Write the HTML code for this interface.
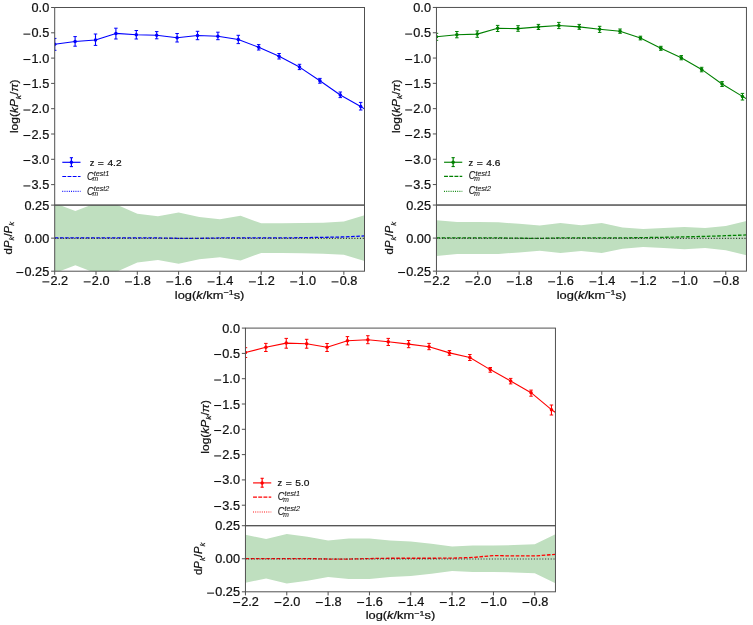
<!DOCTYPE html>
<html><head><meta charset="utf-8"><title>Power spectrum comparison</title>
<style>
html,body{margin:0;padding:0;background:#fff;}
body{width:753px;height:625px;overflow:hidden;}
svg{display:block;font-family:"Liberation Sans", sans-serif;will-change:transform;}
text{fill:#111;stroke:#111;stroke-width:0.22px;}
</style></head><body>
<svg width="753" height="625" viewBox="0 0 753 625">
<rect width="753" height="625" fill="#fff"/>
<clipPath id="cTL"><rect x="54.7" y="7.5" width="309.8" height="197.6"/></clipPath>
<clipPath id="rTL"><rect x="54.7" y="205.1" width="309.8" height="66.1"/></clipPath>
<g clip-path="url(#rTL)">
<polygon points="54.7,203.15 75.35,211.05 96.01,203.05 116.66,204.65 137.31,213.75 157.97,216.35 178.62,212.5 199.27,217.05 219.93,219.15 240.58,215.75 261.23,223.35 281.89,223.35 302.54,222.95 323.19,222.65 343.85,221.55 364.5,215.25 364.5,261.05 343.85,254.75 323.19,253.65 302.54,253.35 281.89,252.95 261.23,252.95 240.58,260.55 219.93,257.15 199.27,259.25 178.62,263.8 157.97,259.95 137.31,262.55 116.66,271.65 96.01,273.25 75.35,265.25 54.7,273.15" fill="#bfdfbf"/>
<polyline points="54.7,237.95 75.35,237.95 96.01,237.95 116.66,237.95 137.31,237.95 157.97,237.95 178.62,238.35 199.27,238.35 219.93,237.95 240.58,237.95 261.23,237.95 281.89,237.95 302.54,237.65 323.19,237.35 343.85,236.95 364.5,235.95" fill="none" stroke="#0000ff" stroke-width="1.3" stroke-dasharray="3.6 1.6"/>
<line x1="54.7" y1="238.4" x2="364.5" y2="238.4" stroke="#333" stroke-width="1.1" stroke-dasharray="1.1 1.7"/>
</g>
<g clip-path="url(#cTL)">
<polyline points="54.7,44.3 75.1,41.5 95.5,40 115.9,33.4 136.3,34.8 156.7,35.3 177.1,37.7 197.5,35.5 217.9,36.2 238.3,39.5 258.7,47.3 279.1,56.3 299.5,67.1 319.9,80.8 340.3,95 360.7,106.4 381.1,120.7" fill="none" stroke="#0000ff" stroke-width="1.1" stroke-linejoin="round"/>
<line x1="54.7" y1="38.4" x2="54.7" y2="50.3" stroke="#0000ff" stroke-width="1.1"/>
<line x1="52.95" y1="38.4" x2="56.45" y2="38.4" stroke="#0000ff" stroke-width="1"/>
<line x1="52.95" y1="50.3" x2="56.45" y2="50.3" stroke="#0000ff" stroke-width="1"/>
<circle cx="54.7" cy="44.3" r="1.75" fill="#0000ff"/>
<line x1="75.1" y1="36.6" x2="75.1" y2="46.2" stroke="#0000ff" stroke-width="1.1"/>
<line x1="73.35" y1="36.6" x2="76.85" y2="36.6" stroke="#0000ff" stroke-width="1"/>
<line x1="73.35" y1="46.2" x2="76.85" y2="46.2" stroke="#0000ff" stroke-width="1"/>
<circle cx="75.1" cy="41.5" r="1.75" fill="#0000ff"/>
<line x1="95.5" y1="34" x2="95.5" y2="45.4" stroke="#0000ff" stroke-width="1.1"/>
<line x1="93.75" y1="34" x2="97.25" y2="34" stroke="#0000ff" stroke-width="1"/>
<line x1="93.75" y1="45.4" x2="97.25" y2="45.4" stroke="#0000ff" stroke-width="1"/>
<circle cx="95.5" cy="40" r="1.75" fill="#0000ff"/>
<line x1="115.9" y1="28.2" x2="115.9" y2="39" stroke="#0000ff" stroke-width="1.1"/>
<line x1="114.15" y1="28.2" x2="117.65" y2="28.2" stroke="#0000ff" stroke-width="1"/>
<line x1="114.15" y1="39" x2="117.65" y2="39" stroke="#0000ff" stroke-width="1"/>
<circle cx="115.9" cy="33.4" r="1.75" fill="#0000ff"/>
<line x1="136.3" y1="30.5" x2="136.3" y2="39" stroke="#0000ff" stroke-width="1.1"/>
<line x1="134.55" y1="30.5" x2="138.05" y2="30.5" stroke="#0000ff" stroke-width="1"/>
<line x1="134.55" y1="39" x2="138.05" y2="39" stroke="#0000ff" stroke-width="1"/>
<circle cx="136.3" cy="34.8" r="1.75" fill="#0000ff"/>
<line x1="156.7" y1="31.6" x2="156.7" y2="38.8" stroke="#0000ff" stroke-width="1.1"/>
<line x1="154.95" y1="31.6" x2="158.45" y2="31.6" stroke="#0000ff" stroke-width="1"/>
<line x1="154.95" y1="38.8" x2="158.45" y2="38.8" stroke="#0000ff" stroke-width="1"/>
<circle cx="156.7" cy="35.3" r="1.75" fill="#0000ff"/>
<line x1="177.1" y1="33.5" x2="177.1" y2="42" stroke="#0000ff" stroke-width="1.1"/>
<line x1="175.35" y1="33.5" x2="178.85" y2="33.5" stroke="#0000ff" stroke-width="1"/>
<line x1="175.35" y1="42" x2="178.85" y2="42" stroke="#0000ff" stroke-width="1"/>
<circle cx="177.1" cy="37.7" r="1.75" fill="#0000ff"/>
<line x1="197.5" y1="31.3" x2="197.5" y2="39.7" stroke="#0000ff" stroke-width="1.1"/>
<line x1="195.75" y1="31.3" x2="199.25" y2="31.3" stroke="#0000ff" stroke-width="1"/>
<line x1="195.75" y1="39.7" x2="199.25" y2="39.7" stroke="#0000ff" stroke-width="1"/>
<circle cx="197.5" cy="35.5" r="1.75" fill="#0000ff"/>
<line x1="217.9" y1="32.2" x2="217.9" y2="39.7" stroke="#0000ff" stroke-width="1.1"/>
<line x1="216.15" y1="32.2" x2="219.65" y2="32.2" stroke="#0000ff" stroke-width="1"/>
<line x1="216.15" y1="39.7" x2="219.65" y2="39.7" stroke="#0000ff" stroke-width="1"/>
<circle cx="217.9" cy="36.2" r="1.75" fill="#0000ff"/>
<line x1="238.3" y1="35.3" x2="238.3" y2="43.6" stroke="#0000ff" stroke-width="1.1"/>
<line x1="236.55" y1="35.3" x2="240.05" y2="35.3" stroke="#0000ff" stroke-width="1"/>
<line x1="236.55" y1="43.6" x2="240.05" y2="43.6" stroke="#0000ff" stroke-width="1"/>
<circle cx="238.3" cy="39.5" r="1.75" fill="#0000ff"/>
<line x1="258.7" y1="44.6" x2="258.7" y2="50" stroke="#0000ff" stroke-width="1.1"/>
<line x1="256.95" y1="44.6" x2="260.45" y2="44.6" stroke="#0000ff" stroke-width="1"/>
<line x1="256.95" y1="50" x2="260.45" y2="50" stroke="#0000ff" stroke-width="1"/>
<circle cx="258.7" cy="47.3" r="1.75" fill="#0000ff"/>
<line x1="279.1" y1="53.5" x2="279.1" y2="59" stroke="#0000ff" stroke-width="1.1"/>
<line x1="277.35" y1="53.5" x2="280.85" y2="53.5" stroke="#0000ff" stroke-width="1"/>
<line x1="277.35" y1="59" x2="280.85" y2="59" stroke="#0000ff" stroke-width="1"/>
<circle cx="279.1" cy="56.3" r="1.75" fill="#0000ff"/>
<line x1="299.5" y1="64.3" x2="299.5" y2="69.6" stroke="#0000ff" stroke-width="1.1"/>
<line x1="297.75" y1="64.3" x2="301.25" y2="64.3" stroke="#0000ff" stroke-width="1"/>
<line x1="297.75" y1="69.6" x2="301.25" y2="69.6" stroke="#0000ff" stroke-width="1"/>
<circle cx="299.5" cy="67.1" r="1.75" fill="#0000ff"/>
<line x1="319.9" y1="78.4" x2="319.9" y2="83.2" stroke="#0000ff" stroke-width="1.1"/>
<line x1="318.15" y1="78.4" x2="321.65" y2="78.4" stroke="#0000ff" stroke-width="1"/>
<line x1="318.15" y1="83.2" x2="321.65" y2="83.2" stroke="#0000ff" stroke-width="1"/>
<circle cx="319.9" cy="80.8" r="1.75" fill="#0000ff"/>
<line x1="340.3" y1="92" x2="340.3" y2="97.6" stroke="#0000ff" stroke-width="1.1"/>
<line x1="338.55" y1="92" x2="342.05" y2="92" stroke="#0000ff" stroke-width="1"/>
<line x1="338.55" y1="97.6" x2="342.05" y2="97.6" stroke="#0000ff" stroke-width="1"/>
<circle cx="340.3" cy="95" r="1.75" fill="#0000ff"/>
<line x1="360.7" y1="102.4" x2="360.7" y2="110" stroke="#0000ff" stroke-width="1.1"/>
<line x1="358.95" y1="102.4" x2="362.45" y2="102.4" stroke="#0000ff" stroke-width="1"/>
<line x1="358.95" y1="110" x2="362.45" y2="110" stroke="#0000ff" stroke-width="1"/>
<circle cx="360.7" cy="106.4" r="1.75" fill="#0000ff"/>
</g>
<line x1="62.3" y1="162.3" x2="80.5" y2="162.3" stroke="#0000ff" stroke-width="1.15"/>
<line x1="71.4" y1="157.7" x2="71.4" y2="166.6" stroke="#0000ff" stroke-width="1.2"/>
<line x1="69.8" y1="157.7" x2="73" y2="157.7" stroke="#0000ff" stroke-width="1.1"/>
<line x1="69.8" y1="166.6" x2="73" y2="166.6" stroke="#0000ff" stroke-width="1.1"/>
<circle cx="71.4" cy="162.3" r="1.75" fill="#0000ff"/>
<text x="89.63" y="165.7" font-size="9.7" textLength="4.67" lengthAdjust="spacingAndGlyphs">z</text>
<text x="97.82" y="165.7" font-size="9.7" textLength="6.05" lengthAdjust="spacingAndGlyphs">=</text>
<text x="107.42" y="165.7" font-size="9.7" textLength="14.15" lengthAdjust="spacingAndGlyphs">4.2</text>
<line x1="62.3" y1="176.5" x2="80.5" y2="176.5" stroke="#0000ff" stroke-width="1.2" stroke-dasharray="3.9 1.3"/>
<text x="87" y="179.5" font-size="10.2" font-style="italic" textLength="6.6" lengthAdjust="spacingAndGlyphs" style="stroke-width:0.12px">C</text>
<text x="93.7" y="175.7" font-size="6.7" font-style="italic" textLength="15.6" lengthAdjust="spacingAndGlyphs" style="stroke-width:0.05px">test1</text>
<text x="92.6" y="181.4" font-size="6.9" font-style="italic" textLength="5.6" lengthAdjust="spacingAndGlyphs" style="stroke-width:0.08px">m</text>
<line x1="62.3" y1="191.4" x2="80.5" y2="191.4" stroke="#0000ff" stroke-width="1.2" stroke-dasharray="0.9 1.3"/>
<text x="87" y="194.5" font-size="10.2" font-style="italic" textLength="6.6" lengthAdjust="spacingAndGlyphs" style="stroke-width:0.12px">C</text>
<text x="93.7" y="190.7" font-size="6.7" font-style="italic" textLength="15.6" lengthAdjust="spacingAndGlyphs" style="stroke-width:0.05px">test2</text>
<text x="92.6" y="196.4" font-size="6.9" font-style="italic" textLength="5.6" lengthAdjust="spacingAndGlyphs" style="stroke-width:0.08px">m</text>
<rect x="54.7" y="7.5" width="309.8" height="197.6" fill="none" stroke="#505050" stroke-width="1"/>
<rect x="54.7" y="205.1" width="309.8" height="66.1" fill="none" stroke="#505050" stroke-width="1"/>
<line x1="51.1" y1="7.5" x2="54.7" y2="7.5" stroke="#505050" stroke-width="1"/>
<text x="31.55" y="12" font-size="12.1" textLength="17.65" lengthAdjust="spacingAndGlyphs">0.0</text>
<line x1="51.1" y1="32.8" x2="54.7" y2="32.8" stroke="#505050" stroke-width="1"/>
<rect x="23.43" y="33.6" width="6.95" height="1.05" fill="#111"/><text x="31.55" y="37.3" font-size="12.1" textLength="17.65" lengthAdjust="spacingAndGlyphs">0.5</text>
<line x1="51.1" y1="58.1" x2="54.7" y2="58.1" stroke="#505050" stroke-width="1"/>
<rect x="23.43" y="59" width="6.95" height="1.05" fill="#111"/><text x="31.55" y="62.6" font-size="12.1" textLength="17.65" lengthAdjust="spacingAndGlyphs">1.0</text>
<line x1="51.1" y1="83.4" x2="54.7" y2="83.4" stroke="#505050" stroke-width="1"/>
<rect x="23.43" y="84" width="6.95" height="1.05" fill="#111"/><text x="31.55" y="87.9" font-size="12.1" textLength="17.65" lengthAdjust="spacingAndGlyphs">1.5</text>
<line x1="51.1" y1="108.7" x2="54.7" y2="108.7" stroke="#505050" stroke-width="1"/>
<rect x="23.43" y="109.5" width="6.95" height="1.05" fill="#111"/><text x="31.55" y="113.2" font-size="12.1" textLength="17.65" lengthAdjust="spacingAndGlyphs">2.0</text>
<line x1="51.1" y1="134" x2="54.7" y2="134" stroke="#505050" stroke-width="1"/>
<rect x="23.43" y="135" width="6.95" height="1.05" fill="#111"/><text x="31.55" y="138.5" font-size="12.1" textLength="17.65" lengthAdjust="spacingAndGlyphs">2.5</text>
<line x1="51.1" y1="159.31" x2="54.7" y2="159.31" stroke="#505050" stroke-width="1"/>
<rect x="23.43" y="160" width="6.95" height="1.05" fill="#111"/><text x="31.55" y="163.81" font-size="12.1" textLength="17.65" lengthAdjust="spacingAndGlyphs">3.0</text>
<line x1="51.1" y1="184.61" x2="54.7" y2="184.61" stroke="#505050" stroke-width="1"/>
<rect x="23.43" y="185.41" width="6.95" height="1.05" fill="#111"/><text x="31.55" y="189.11" font-size="12.1" textLength="17.65" lengthAdjust="spacingAndGlyphs">3.5</text>
<line x1="51.1" y1="205.1" x2="54.7" y2="205.1" stroke="#505050" stroke-width="1"/>
<text x="24.49" y="209.6" font-size="12.1" textLength="24.71" lengthAdjust="spacingAndGlyphs">0.25</text>
<line x1="51.1" y1="238.15" x2="54.7" y2="238.15" stroke="#505050" stroke-width="1"/>
<text x="24.49" y="242.65" font-size="12.1" textLength="24.71" lengthAdjust="spacingAndGlyphs">0.00</text>
<line x1="51.1" y1="271.2" x2="54.7" y2="271.2" stroke="#505050" stroke-width="1"/>
<rect x="16.37" y="272" width="6.95" height="1.05" fill="#111"/><text x="24.49" y="275.7" font-size="12.1" textLength="24.71" lengthAdjust="spacingAndGlyphs">0.25</text>
<line x1="54.7" y1="271.2" x2="54.7" y2="274.8" stroke="#505050" stroke-width="1"/>
<rect x="42.4" y="281.35" width="6.95" height="1.05" fill="#111"/><text x="50.53" y="285.05" font-size="12.1" textLength="17.65" lengthAdjust="spacingAndGlyphs">2.2</text>
<line x1="96.01" y1="271.2" x2="96.01" y2="274.8" stroke="#505050" stroke-width="1"/>
<rect x="83.71" y="281.35" width="6.95" height="1.05" fill="#111"/><text x="91.83" y="285.05" font-size="12.1" textLength="17.65" lengthAdjust="spacingAndGlyphs">2.0</text>
<line x1="137.31" y1="271.2" x2="137.31" y2="274.8" stroke="#505050" stroke-width="1"/>
<rect x="125.01" y="281.35" width="6.95" height="1.05" fill="#111"/><text x="133.14" y="285.05" font-size="12.1" textLength="17.65" lengthAdjust="spacingAndGlyphs">1.8</text>
<line x1="178.62" y1="271.2" x2="178.62" y2="274.8" stroke="#505050" stroke-width="1"/>
<rect x="166.32" y="281.35" width="6.95" height="1.05" fill="#111"/><text x="174.45" y="285.05" font-size="12.1" textLength="17.65" lengthAdjust="spacingAndGlyphs">1.6</text>
<line x1="219.93" y1="271.2" x2="219.93" y2="274.8" stroke="#505050" stroke-width="1"/>
<rect x="207.63" y="281.35" width="6.95" height="1.05" fill="#111"/><text x="215.75" y="285.05" font-size="12.1" textLength="17.65" lengthAdjust="spacingAndGlyphs">1.4</text>
<line x1="261.23" y1="271.2" x2="261.23" y2="274.8" stroke="#505050" stroke-width="1"/>
<rect x="248.93" y="281.35" width="6.95" height="1.05" fill="#111"/><text x="257.06" y="285.05" font-size="12.1" textLength="17.65" lengthAdjust="spacingAndGlyphs">1.2</text>
<line x1="302.54" y1="271.2" x2="302.54" y2="274.8" stroke="#505050" stroke-width="1"/>
<rect x="290.24" y="281.35" width="6.95" height="1.05" fill="#111"/><text x="298.37" y="285.05" font-size="12.1" textLength="17.65" lengthAdjust="spacingAndGlyphs">1.0</text>
<line x1="343.85" y1="271.2" x2="343.85" y2="274.8" stroke="#505050" stroke-width="1"/>
<rect x="331.55" y="281.35" width="6.95" height="1.05" fill="#111"/><text x="339.67" y="285.05" font-size="12.1" textLength="17.65" lengthAdjust="spacingAndGlyphs">0.8</text>
<text x="209.6" y="298.8" font-size="10.6" text-anchor="middle" textLength="69.5" lengthAdjust="spacingAndGlyphs">log(<tspan font-style="italic">k</tspan>/km<tspan dy="-3.8" font-size="7.4">−1</tspan><tspan dy="3.8">s)</tspan></text>
<text transform="translate(18,106.3) rotate(-90)" x="0" y="0" font-size="11" text-anchor="middle" textLength="53.6" lengthAdjust="spacingAndGlyphs">log(<tspan font-style="italic">kP</tspan><tspan font-style="italic" font-size="7.8" dy="2.7">k</tspan><tspan dy="-2.7">/</tspan><tspan font-style="italic">π</tspan>)</text>
<text transform="translate(11.5,238.15) rotate(-90)" x="0" y="0" font-size="11.2" text-anchor="middle" textLength="32.6" lengthAdjust="spacingAndGlyphs">d<tspan font-style="italic">P</tspan><tspan font-style="italic" font-size="7.8" dy="2.7">k</tspan><tspan dy="-2.7">/</tspan><tspan font-style="italic">P</tspan><tspan font-style="italic" font-size="7.8" dy="2.7">k</tspan></text>
<clipPath id="cTR"><rect x="436.45" y="7.45" width="310" height="197.6"/></clipPath>
<clipPath id="rTR"><rect x="436.45" y="205.05" width="310" height="66.1"/></clipPath>
<g clip-path="url(#rTR)">
<polygon points="436.45,220.2 457.12,222.1 477.78,222.1 498.45,222.3 519.12,223.8 539.78,225.5 560.45,223.1 581.12,225.3 601.78,223.1 622.45,227.4 643.12,229.1 663.78,228.1 684.45,227 705.12,228.1 725.78,225.9 746.45,221 746.45,255.2 725.78,250.3 705.12,248.1 684.45,249.2 663.78,248.1 643.12,247.1 622.45,248.8 601.78,253.1 581.12,250.9 560.45,253.1 539.78,250.7 519.12,252.4 498.45,253.9 477.78,254.1 457.12,254.1 436.45,256" fill="#bfdfbf"/>
<polyline points="436.45,237.9 457.12,237.9 477.78,237.9 498.45,237.9 519.12,238.2 539.78,238.4 560.45,237.9 581.12,237.9 601.78,237.9 622.45,237.9 643.12,237.6 663.78,237.3 684.45,236.9 705.12,236.4 725.78,235.7 746.45,234.9" fill="none" stroke="#008000" stroke-width="1.3" stroke-dasharray="3.6 1.6"/>
<line x1="436.45" y1="238.35" x2="746.45" y2="238.35" stroke="#333" stroke-width="1.1" stroke-dasharray="1.1 1.7"/>
</g>
<g clip-path="url(#cTR)">
<polyline points="436.45,36.8 456.85,34.7 477.25,34.1 497.65,28.3 518.05,28.6 538.45,26.9 558.85,25.5 579.25,26.9 599.65,29.3 620.05,31.3 640.45,37.9 660.85,48.3 681.25,57.8 701.65,69.4 722.05,84 742.45,96.4 762.85,108.8" fill="none" stroke="#008000" stroke-width="1.1" stroke-linejoin="round"/>
<line x1="436.45" y1="33.3" x2="436.45" y2="40.3" stroke="#008000" stroke-width="1.1"/>
<line x1="434.7" y1="33.3" x2="438.2" y2="33.3" stroke="#008000" stroke-width="1"/>
<line x1="434.7" y1="40.3" x2="438.2" y2="40.3" stroke="#008000" stroke-width="1"/>
<circle cx="436.45" cy="36.8" r="1.75" fill="#008000"/>
<line x1="456.85" y1="31.5" x2="456.85" y2="37.8" stroke="#008000" stroke-width="1.1"/>
<line x1="455.1" y1="31.5" x2="458.6" y2="31.5" stroke="#008000" stroke-width="1"/>
<line x1="455.1" y1="37.8" x2="458.6" y2="37.8" stroke="#008000" stroke-width="1"/>
<circle cx="456.85" cy="34.7" r="1.75" fill="#008000"/>
<line x1="477.25" y1="30.9" x2="477.25" y2="37.3" stroke="#008000" stroke-width="1.1"/>
<line x1="475.5" y1="30.9" x2="479" y2="30.9" stroke="#008000" stroke-width="1"/>
<line x1="475.5" y1="37.3" x2="479" y2="37.3" stroke="#008000" stroke-width="1"/>
<circle cx="477.25" cy="34.1" r="1.75" fill="#008000"/>
<line x1="497.65" y1="25.4" x2="497.65" y2="31.5" stroke="#008000" stroke-width="1.1"/>
<line x1="495.9" y1="25.4" x2="499.4" y2="25.4" stroke="#008000" stroke-width="1"/>
<line x1="495.9" y1="31.5" x2="499.4" y2="31.5" stroke="#008000" stroke-width="1"/>
<circle cx="497.65" cy="28.3" r="1.75" fill="#008000"/>
<line x1="518.05" y1="25.7" x2="518.05" y2="31.3" stroke="#008000" stroke-width="1.1"/>
<line x1="516.3" y1="25.7" x2="519.8" y2="25.7" stroke="#008000" stroke-width="1"/>
<line x1="516.3" y1="31.3" x2="519.8" y2="31.3" stroke="#008000" stroke-width="1"/>
<circle cx="518.05" cy="28.6" r="1.75" fill="#008000"/>
<line x1="538.45" y1="24.4" x2="538.45" y2="29.5" stroke="#008000" stroke-width="1.1"/>
<line x1="536.7" y1="24.4" x2="540.2" y2="24.4" stroke="#008000" stroke-width="1"/>
<line x1="536.7" y1="29.5" x2="540.2" y2="29.5" stroke="#008000" stroke-width="1"/>
<circle cx="538.45" cy="26.9" r="1.75" fill="#008000"/>
<line x1="558.85" y1="22.4" x2="558.85" y2="28.6" stroke="#008000" stroke-width="1.1"/>
<line x1="557.1" y1="22.4" x2="560.6" y2="22.4" stroke="#008000" stroke-width="1"/>
<line x1="557.1" y1="28.6" x2="560.6" y2="28.6" stroke="#008000" stroke-width="1"/>
<circle cx="558.85" cy="25.5" r="1.75" fill="#008000"/>
<line x1="579.25" y1="24.4" x2="579.25" y2="29.3" stroke="#008000" stroke-width="1.1"/>
<line x1="577.5" y1="24.4" x2="581" y2="24.4" stroke="#008000" stroke-width="1"/>
<line x1="577.5" y1="29.3" x2="581" y2="29.3" stroke="#008000" stroke-width="1"/>
<circle cx="579.25" cy="26.9" r="1.75" fill="#008000"/>
<line x1="599.65" y1="26.3" x2="599.65" y2="32.4" stroke="#008000" stroke-width="1.1"/>
<line x1="597.9" y1="26.3" x2="601.4" y2="26.3" stroke="#008000" stroke-width="1"/>
<line x1="597.9" y1="32.4" x2="601.4" y2="32.4" stroke="#008000" stroke-width="1"/>
<circle cx="599.65" cy="29.3" r="1.75" fill="#008000"/>
<line x1="620.05" y1="29" x2="620.05" y2="33.3" stroke="#008000" stroke-width="1.1"/>
<line x1="618.3" y1="29" x2="621.8" y2="29" stroke="#008000" stroke-width="1"/>
<line x1="618.3" y1="33.3" x2="621.8" y2="33.3" stroke="#008000" stroke-width="1"/>
<circle cx="620.05" cy="31.3" r="1.75" fill="#008000"/>
<line x1="640.45" y1="36.2" x2="640.45" y2="39.9" stroke="#008000" stroke-width="1.1"/>
<line x1="638.7" y1="36.2" x2="642.2" y2="36.2" stroke="#008000" stroke-width="1"/>
<line x1="638.7" y1="39.9" x2="642.2" y2="39.9" stroke="#008000" stroke-width="1"/>
<circle cx="640.45" cy="37.9" r="1.75" fill="#008000"/>
<line x1="660.85" y1="46.3" x2="660.85" y2="50.3" stroke="#008000" stroke-width="1.1"/>
<line x1="659.1" y1="46.3" x2="662.6" y2="46.3" stroke="#008000" stroke-width="1"/>
<line x1="659.1" y1="50.3" x2="662.6" y2="50.3" stroke="#008000" stroke-width="1"/>
<circle cx="660.85" cy="48.3" r="1.75" fill="#008000"/>
<line x1="681.25" y1="55.6" x2="681.25" y2="59.8" stroke="#008000" stroke-width="1.1"/>
<line x1="679.5" y1="55.6" x2="683" y2="55.6" stroke="#008000" stroke-width="1"/>
<line x1="679.5" y1="59.8" x2="683" y2="59.8" stroke="#008000" stroke-width="1"/>
<circle cx="681.25" cy="57.8" r="1.75" fill="#008000"/>
<line x1="701.65" y1="67.3" x2="701.65" y2="71.8" stroke="#008000" stroke-width="1.1"/>
<line x1="699.9" y1="67.3" x2="703.4" y2="67.3" stroke="#008000" stroke-width="1"/>
<line x1="699.9" y1="71.8" x2="703.4" y2="71.8" stroke="#008000" stroke-width="1"/>
<circle cx="701.65" cy="69.4" r="1.75" fill="#008000"/>
<line x1="722.05" y1="81.6" x2="722.05" y2="86.5" stroke="#008000" stroke-width="1.1"/>
<line x1="720.3" y1="81.6" x2="723.8" y2="81.6" stroke="#008000" stroke-width="1"/>
<line x1="720.3" y1="86.5" x2="723.8" y2="86.5" stroke="#008000" stroke-width="1"/>
<circle cx="722.05" cy="84" r="1.75" fill="#008000"/>
<line x1="742.45" y1="93.4" x2="742.45" y2="100" stroke="#008000" stroke-width="1.1"/>
<line x1="740.7" y1="93.4" x2="744.2" y2="93.4" stroke="#008000" stroke-width="1"/>
<line x1="740.7" y1="100" x2="744.2" y2="100" stroke="#008000" stroke-width="1"/>
<circle cx="742.45" cy="96.4" r="1.75" fill="#008000"/>
</g>
<line x1="444.05" y1="162.25" x2="462.25" y2="162.25" stroke="#008000" stroke-width="1.15"/>
<line x1="453.15" y1="157.65" x2="453.15" y2="166.55" stroke="#008000" stroke-width="1.2"/>
<line x1="451.55" y1="157.65" x2="454.75" y2="157.65" stroke="#008000" stroke-width="1.1"/>
<line x1="451.55" y1="166.55" x2="454.75" y2="166.55" stroke="#008000" stroke-width="1.1"/>
<circle cx="453.15" cy="162.25" r="1.75" fill="#008000"/>
<text x="468.55" y="165.65" font-size="9.7" textLength="4.67" lengthAdjust="spacingAndGlyphs">z</text>
<text x="476.74" y="165.65" font-size="9.7" textLength="6.05" lengthAdjust="spacingAndGlyphs">=</text>
<text x="486.34" y="165.65" font-size="9.7" textLength="14.15" lengthAdjust="spacingAndGlyphs">4.6</text>
<line x1="444.05" y1="176.45" x2="462.25" y2="176.45" stroke="#008000" stroke-width="1.2" stroke-dasharray="3.9 1.3"/>
<text x="468.75" y="179.45" font-size="10.2" font-style="italic" textLength="6.6" lengthAdjust="spacingAndGlyphs" style="stroke-width:0.12px">C</text>
<text x="475.45" y="175.65" font-size="6.7" font-style="italic" textLength="15.6" lengthAdjust="spacingAndGlyphs" style="stroke-width:0.05px">test1</text>
<text x="474.35" y="181.35" font-size="6.9" font-style="italic" textLength="5.6" lengthAdjust="spacingAndGlyphs" style="stroke-width:0.08px">m</text>
<line x1="444.05" y1="191.35" x2="462.25" y2="191.35" stroke="#008000" stroke-width="1.2" stroke-dasharray="0.9 1.3"/>
<text x="468.75" y="194.45" font-size="10.2" font-style="italic" textLength="6.6" lengthAdjust="spacingAndGlyphs" style="stroke-width:0.12px">C</text>
<text x="475.45" y="190.65" font-size="6.7" font-style="italic" textLength="15.6" lengthAdjust="spacingAndGlyphs" style="stroke-width:0.05px">test2</text>
<text x="474.35" y="196.35" font-size="6.9" font-style="italic" textLength="5.6" lengthAdjust="spacingAndGlyphs" style="stroke-width:0.08px">m</text>
<rect x="436.45" y="7.45" width="310" height="197.6" fill="none" stroke="#505050" stroke-width="1"/>
<rect x="436.45" y="205.05" width="310" height="66.1" fill="none" stroke="#505050" stroke-width="1"/>
<line x1="432.85" y1="7.45" x2="436.45" y2="7.45" stroke="#505050" stroke-width="1"/>
<text x="413.3" y="11.95" font-size="12.1" textLength="17.65" lengthAdjust="spacingAndGlyphs">0.0</text>
<line x1="432.85" y1="32.75" x2="436.45" y2="32.75" stroke="#505050" stroke-width="1"/>
<rect x="405.18" y="33.55" width="6.95" height="1.05" fill="#111"/><text x="413.3" y="37.25" font-size="12.1" textLength="17.65" lengthAdjust="spacingAndGlyphs">0.5</text>
<line x1="432.85" y1="58.05" x2="436.45" y2="58.05" stroke="#505050" stroke-width="1"/>
<rect x="405.18" y="59" width="6.95" height="1.05" fill="#111"/><text x="413.3" y="62.55" font-size="12.1" textLength="17.65" lengthAdjust="spacingAndGlyphs">1.0</text>
<line x1="432.85" y1="83.35" x2="436.45" y2="83.35" stroke="#505050" stroke-width="1"/>
<rect x="405.18" y="84" width="6.95" height="1.05" fill="#111"/><text x="413.3" y="87.85" font-size="12.1" textLength="17.65" lengthAdjust="spacingAndGlyphs">1.5</text>
<line x1="432.85" y1="108.65" x2="436.45" y2="108.65" stroke="#505050" stroke-width="1"/>
<rect x="405.18" y="109.45" width="6.95" height="1.05" fill="#111"/><text x="413.3" y="113.15" font-size="12.1" textLength="17.65" lengthAdjust="spacingAndGlyphs">2.0</text>
<line x1="432.85" y1="133.95" x2="436.45" y2="133.95" stroke="#505050" stroke-width="1"/>
<rect x="405.18" y="135" width="6.95" height="1.05" fill="#111"/><text x="413.3" y="138.45" font-size="12.1" textLength="17.65" lengthAdjust="spacingAndGlyphs">2.5</text>
<line x1="432.85" y1="159.26" x2="436.45" y2="159.26" stroke="#505050" stroke-width="1"/>
<rect x="405.18" y="160" width="6.95" height="1.05" fill="#111"/><text x="413.3" y="163.76" font-size="12.1" textLength="17.65" lengthAdjust="spacingAndGlyphs">3.0</text>
<line x1="432.85" y1="184.56" x2="436.45" y2="184.56" stroke="#505050" stroke-width="1"/>
<rect x="405.18" y="185.36" width="6.95" height="1.05" fill="#111"/><text x="413.3" y="189.06" font-size="12.1" textLength="17.65" lengthAdjust="spacingAndGlyphs">3.5</text>
<line x1="432.85" y1="205.05" x2="436.45" y2="205.05" stroke="#505050" stroke-width="1"/>
<text x="406.24" y="209.55" font-size="12.1" textLength="24.71" lengthAdjust="spacingAndGlyphs">0.25</text>
<line x1="432.85" y1="238.1" x2="436.45" y2="238.1" stroke="#505050" stroke-width="1"/>
<text x="406.24" y="242.6" font-size="12.1" textLength="24.71" lengthAdjust="spacingAndGlyphs">0.00</text>
<line x1="432.85" y1="271.15" x2="436.45" y2="271.15" stroke="#505050" stroke-width="1"/>
<rect x="398.12" y="272" width="6.95" height="1.05" fill="#111"/><text x="406.24" y="275.65" font-size="12.1" textLength="24.71" lengthAdjust="spacingAndGlyphs">0.25</text>
<line x1="436.45" y1="271.15" x2="436.45" y2="274.75" stroke="#505050" stroke-width="1"/>
<rect x="424.15" y="281.3" width="6.95" height="1.05" fill="#111"/><text x="432.28" y="285" font-size="12.1" textLength="17.65" lengthAdjust="spacingAndGlyphs">2.2</text>
<line x1="477.78" y1="271.15" x2="477.78" y2="274.75" stroke="#505050" stroke-width="1"/>
<rect x="465.48" y="281.3" width="6.95" height="1.05" fill="#111"/><text x="473.61" y="285" font-size="12.1" textLength="17.65" lengthAdjust="spacingAndGlyphs">2.0</text>
<line x1="519.12" y1="271.15" x2="519.12" y2="274.75" stroke="#505050" stroke-width="1"/>
<rect x="506.82" y="281.3" width="6.95" height="1.05" fill="#111"/><text x="514.94" y="285" font-size="12.1" textLength="17.65" lengthAdjust="spacingAndGlyphs">1.8</text>
<line x1="560.45" y1="271.15" x2="560.45" y2="274.75" stroke="#505050" stroke-width="1"/>
<rect x="548.15" y="281.3" width="6.95" height="1.05" fill="#111"/><text x="556.28" y="285" font-size="12.1" textLength="17.65" lengthAdjust="spacingAndGlyphs">1.6</text>
<line x1="601.78" y1="271.15" x2="601.78" y2="274.75" stroke="#505050" stroke-width="1"/>
<rect x="589.48" y="281.3" width="6.95" height="1.05" fill="#111"/><text x="597.61" y="285" font-size="12.1" textLength="17.65" lengthAdjust="spacingAndGlyphs">1.4</text>
<line x1="643.12" y1="271.15" x2="643.12" y2="274.75" stroke="#505050" stroke-width="1"/>
<rect x="630.82" y="281.3" width="6.95" height="1.05" fill="#111"/><text x="638.94" y="285" font-size="12.1" textLength="17.65" lengthAdjust="spacingAndGlyphs">1.2</text>
<line x1="684.45" y1="271.15" x2="684.45" y2="274.75" stroke="#505050" stroke-width="1"/>
<rect x="672.15" y="281.3" width="6.95" height="1.05" fill="#111"/><text x="680.28" y="285" font-size="12.1" textLength="17.65" lengthAdjust="spacingAndGlyphs">1.0</text>
<line x1="725.78" y1="271.15" x2="725.78" y2="274.75" stroke="#505050" stroke-width="1"/>
<rect x="713.48" y="281.3" width="6.95" height="1.05" fill="#111"/><text x="721.61" y="285" font-size="12.1" textLength="17.65" lengthAdjust="spacingAndGlyphs">0.8</text>
<text x="591.45" y="298.75" font-size="10.6" text-anchor="middle" textLength="69.5" lengthAdjust="spacingAndGlyphs">log(<tspan font-style="italic">k</tspan>/km<tspan dy="-3.8" font-size="7.4">−1</tspan><tspan dy="3.8">s)</tspan></text>
<text transform="translate(399.75,106.25) rotate(-90)" x="0" y="0" font-size="11" text-anchor="middle" textLength="53.6" lengthAdjust="spacingAndGlyphs">log(<tspan font-style="italic">kP</tspan><tspan font-style="italic" font-size="7.8" dy="2.7">k</tspan><tspan dy="-2.7">/</tspan><tspan font-style="italic">π</tspan>)</text>
<text transform="translate(393.25,238.1) rotate(-90)" x="0" y="0" font-size="11.2" text-anchor="middle" textLength="32.6" lengthAdjust="spacingAndGlyphs">d<tspan font-style="italic">P</tspan><tspan font-style="italic" font-size="7.8" dy="2.7">k</tspan><tspan dy="-2.7">/</tspan><tspan font-style="italic">P</tspan><tspan font-style="italic" font-size="7.8" dy="2.7">k</tspan></text>
<clipPath id="cB"><rect x="245.45" y="328.1" width="310" height="197.6"/></clipPath>
<clipPath id="rB"><rect x="245.45" y="525.7" width="310" height="66.1"/></clipPath>
<g clip-path="url(#rB)">
<polygon points="245.45,534.75 266.12,538.95 286.78,534.05 307.45,536.85 328.12,540.45 348.78,538.55 369.45,538.55 390.12,540.45 410.78,541.55 431.45,543.75 452.12,546.45 472.78,545.55 493.45,545.55 514.12,545.05 534.78,544.25 555.45,534.35 555.45,583.15 534.78,573.25 514.12,572.45 493.45,571.95 472.78,571.95 452.12,571.05 431.45,573.75 410.78,575.95 390.12,577.05 369.45,578.95 348.78,578.95 328.12,577.05 307.45,580.65 286.78,583.45 266.12,578.55 245.45,582.75" fill="#bfdfbf"/>
<polyline points="245.45,558.55 266.12,558.55 286.78,558.55 307.45,558.55 328.12,559.05 348.78,559.05 369.45,558.55 390.12,558.25 410.78,558.25 431.45,558.25 452.12,558.15 472.78,557.45 493.45,555.55 514.12,555.95 534.78,555.95 555.45,554.35" fill="none" stroke="#ff0000" stroke-width="1.3" stroke-dasharray="3.6 1.6"/>
<line x1="245.45" y1="559" x2="555.45" y2="559" stroke="#333" stroke-width="1.1" stroke-dasharray="1.1 1.7"/>
</g>
<g clip-path="url(#cB)">
<polyline points="245.45,352.5 265.85,347.3 286.25,343.1 306.65,343.7 327.05,347.3 347.45,340.75 367.85,339.8 388.25,341.7 408.65,344.1 429.05,346.7 449.45,352.9 469.85,357.5 490.25,369.6 510.65,381 531.05,392.7 551.45,409.7 571.85,423.4" fill="none" stroke="#ff0000" stroke-width="1.1" stroke-linejoin="round"/>
<line x1="245.45" y1="347.7" x2="245.45" y2="357.5" stroke="#ff0000" stroke-width="1.1"/>
<line x1="243.7" y1="347.7" x2="247.2" y2="347.7" stroke="#ff0000" stroke-width="1"/>
<line x1="243.7" y1="357.5" x2="247.2" y2="357.5" stroke="#ff0000" stroke-width="1"/>
<circle cx="245.45" cy="352.5" r="1.75" fill="#ff0000"/>
<line x1="265.85" y1="343.4" x2="265.85" y2="351.5" stroke="#ff0000" stroke-width="1.1"/>
<line x1="264.1" y1="343.4" x2="267.6" y2="343.4" stroke="#ff0000" stroke-width="1"/>
<line x1="264.1" y1="351.5" x2="267.6" y2="351.5" stroke="#ff0000" stroke-width="1"/>
<circle cx="265.85" cy="347.3" r="1.75" fill="#ff0000"/>
<line x1="286.25" y1="338.4" x2="286.25" y2="348.2" stroke="#ff0000" stroke-width="1.1"/>
<line x1="284.5" y1="338.4" x2="288" y2="338.4" stroke="#ff0000" stroke-width="1"/>
<line x1="284.5" y1="348.2" x2="288" y2="348.2" stroke="#ff0000" stroke-width="1"/>
<circle cx="286.25" cy="343.1" r="1.75" fill="#ff0000"/>
<line x1="306.65" y1="339.3" x2="306.65" y2="348.2" stroke="#ff0000" stroke-width="1.1"/>
<line x1="304.9" y1="339.3" x2="308.4" y2="339.3" stroke="#ff0000" stroke-width="1"/>
<line x1="304.9" y1="348.2" x2="308.4" y2="348.2" stroke="#ff0000" stroke-width="1"/>
<circle cx="306.65" cy="343.7" r="1.75" fill="#ff0000"/>
<line x1="327.05" y1="343.5" x2="327.05" y2="351.5" stroke="#ff0000" stroke-width="1.1"/>
<line x1="325.3" y1="343.5" x2="328.8" y2="343.5" stroke="#ff0000" stroke-width="1"/>
<line x1="325.3" y1="351.5" x2="328.8" y2="351.5" stroke="#ff0000" stroke-width="1"/>
<circle cx="327.05" cy="347.3" r="1.75" fill="#ff0000"/>
<line x1="347.45" y1="336.6" x2="347.45" y2="344.9" stroke="#ff0000" stroke-width="1.1"/>
<line x1="345.7" y1="336.6" x2="349.2" y2="336.6" stroke="#ff0000" stroke-width="1"/>
<line x1="345.7" y1="344.9" x2="349.2" y2="344.9" stroke="#ff0000" stroke-width="1"/>
<circle cx="347.45" cy="340.75" r="1.75" fill="#ff0000"/>
<line x1="367.85" y1="335.7" x2="367.85" y2="343.7" stroke="#ff0000" stroke-width="1.1"/>
<line x1="366.1" y1="335.7" x2="369.6" y2="335.7" stroke="#ff0000" stroke-width="1"/>
<line x1="366.1" y1="343.7" x2="369.6" y2="343.7" stroke="#ff0000" stroke-width="1"/>
<circle cx="367.85" cy="339.8" r="1.75" fill="#ff0000"/>
<line x1="388.25" y1="338.4" x2="388.25" y2="345.5" stroke="#ff0000" stroke-width="1.1"/>
<line x1="386.5" y1="338.4" x2="390" y2="338.4" stroke="#ff0000" stroke-width="1"/>
<line x1="386.5" y1="345.5" x2="390" y2="345.5" stroke="#ff0000" stroke-width="1"/>
<circle cx="388.25" cy="341.7" r="1.75" fill="#ff0000"/>
<line x1="408.65" y1="340.5" x2="408.65" y2="347.7" stroke="#ff0000" stroke-width="1.1"/>
<line x1="406.9" y1="340.5" x2="410.4" y2="340.5" stroke="#ff0000" stroke-width="1"/>
<line x1="406.9" y1="347.7" x2="410.4" y2="347.7" stroke="#ff0000" stroke-width="1"/>
<circle cx="408.65" cy="344.1" r="1.75" fill="#ff0000"/>
<line x1="429.05" y1="343.4" x2="429.05" y2="349.7" stroke="#ff0000" stroke-width="1.1"/>
<line x1="427.3" y1="343.4" x2="430.8" y2="343.4" stroke="#ff0000" stroke-width="1"/>
<line x1="427.3" y1="349.7" x2="430.8" y2="349.7" stroke="#ff0000" stroke-width="1"/>
<circle cx="429.05" cy="346.7" r="1.75" fill="#ff0000"/>
<line x1="449.45" y1="350.5" x2="449.45" y2="355.3" stroke="#ff0000" stroke-width="1.1"/>
<line x1="447.7" y1="350.5" x2="451.2" y2="350.5" stroke="#ff0000" stroke-width="1"/>
<line x1="447.7" y1="355.3" x2="451.2" y2="355.3" stroke="#ff0000" stroke-width="1"/>
<circle cx="449.45" cy="352.9" r="1.75" fill="#ff0000"/>
<line x1="469.85" y1="354.5" x2="469.85" y2="360.5" stroke="#ff0000" stroke-width="1.1"/>
<line x1="468.1" y1="354.5" x2="471.6" y2="354.5" stroke="#ff0000" stroke-width="1"/>
<line x1="468.1" y1="360.5" x2="471.6" y2="360.5" stroke="#ff0000" stroke-width="1"/>
<circle cx="469.85" cy="357.5" r="1.75" fill="#ff0000"/>
<line x1="490.25" y1="367.5" x2="490.25" y2="372.2" stroke="#ff0000" stroke-width="1.1"/>
<line x1="488.5" y1="367.5" x2="492" y2="367.5" stroke="#ff0000" stroke-width="1"/>
<line x1="488.5" y1="372.2" x2="492" y2="372.2" stroke="#ff0000" stroke-width="1"/>
<circle cx="490.25" cy="369.6" r="1.75" fill="#ff0000"/>
<line x1="510.65" y1="378.4" x2="510.65" y2="383.9" stroke="#ff0000" stroke-width="1.1"/>
<line x1="508.9" y1="378.4" x2="512.4" y2="378.4" stroke="#ff0000" stroke-width="1"/>
<line x1="508.9" y1="383.9" x2="512.4" y2="383.9" stroke="#ff0000" stroke-width="1"/>
<circle cx="510.65" cy="381" r="1.75" fill="#ff0000"/>
<line x1="531.05" y1="390.1" x2="531.05" y2="396.2" stroke="#ff0000" stroke-width="1.1"/>
<line x1="529.3" y1="390.1" x2="532.8" y2="390.1" stroke="#ff0000" stroke-width="1"/>
<line x1="529.3" y1="396.2" x2="532.8" y2="396.2" stroke="#ff0000" stroke-width="1"/>
<circle cx="531.05" cy="392.7" r="1.75" fill="#ff0000"/>
<line x1="551.45" y1="405" x2="551.45" y2="415" stroke="#ff0000" stroke-width="1.1"/>
<line x1="549.7" y1="405" x2="553.2" y2="405" stroke="#ff0000" stroke-width="1"/>
<line x1="549.7" y1="415" x2="553.2" y2="415" stroke="#ff0000" stroke-width="1"/>
<circle cx="551.45" cy="409.7" r="1.75" fill="#ff0000"/>
</g>
<line x1="253.05" y1="482.9" x2="271.25" y2="482.9" stroke="#ff0000" stroke-width="1.15"/>
<line x1="262.15" y1="478.3" x2="262.15" y2="487.2" stroke="#ff0000" stroke-width="1.2"/>
<line x1="260.55" y1="478.3" x2="263.75" y2="478.3" stroke="#ff0000" stroke-width="1.1"/>
<line x1="260.55" y1="487.2" x2="263.75" y2="487.2" stroke="#ff0000" stroke-width="1.1"/>
<circle cx="262.15" cy="482.9" r="1.75" fill="#ff0000"/>
<text x="277.55" y="486.3" font-size="9.7" textLength="4.67" lengthAdjust="spacingAndGlyphs">z</text>
<text x="285.74" y="486.3" font-size="9.7" textLength="6.05" lengthAdjust="spacingAndGlyphs">=</text>
<text x="295.34" y="486.3" font-size="9.7" textLength="14.15" lengthAdjust="spacingAndGlyphs">5.0</text>
<line x1="253.05" y1="497.1" x2="271.25" y2="497.1" stroke="#ff0000" stroke-width="1.2" stroke-dasharray="3.9 1.3"/>
<text x="277.75" y="500.1" font-size="10.2" font-style="italic" textLength="6.6" lengthAdjust="spacingAndGlyphs" style="stroke-width:0.12px">C</text>
<text x="284.45" y="496.3" font-size="6.7" font-style="italic" textLength="15.6" lengthAdjust="spacingAndGlyphs" style="stroke-width:0.05px">test1</text>
<text x="283.35" y="502" font-size="6.9" font-style="italic" textLength="5.6" lengthAdjust="spacingAndGlyphs" style="stroke-width:0.08px">m</text>
<line x1="253.05" y1="512" x2="271.25" y2="512" stroke="#ff0000" stroke-width="1.2" stroke-dasharray="0.9 1.3"/>
<text x="277.75" y="515.1" font-size="10.2" font-style="italic" textLength="6.6" lengthAdjust="spacingAndGlyphs" style="stroke-width:0.12px">C</text>
<text x="284.45" y="511.3" font-size="6.7" font-style="italic" textLength="15.6" lengthAdjust="spacingAndGlyphs" style="stroke-width:0.05px">test2</text>
<text x="283.35" y="517" font-size="6.9" font-style="italic" textLength="5.6" lengthAdjust="spacingAndGlyphs" style="stroke-width:0.08px">m</text>
<rect x="245.45" y="328.1" width="310" height="197.6" fill="none" stroke="#505050" stroke-width="1"/>
<rect x="245.45" y="525.7" width="310" height="66.1" fill="none" stroke="#505050" stroke-width="1"/>
<line x1="241.85" y1="328.1" x2="245.45" y2="328.1" stroke="#505050" stroke-width="1"/>
<text x="222.3" y="332.6" font-size="12.1" textLength="17.65" lengthAdjust="spacingAndGlyphs">0.0</text>
<line x1="241.85" y1="353.4" x2="245.45" y2="353.4" stroke="#505050" stroke-width="1"/>
<rect x="214.18" y="354" width="6.95" height="1.05" fill="#111"/><text x="222.3" y="357.9" font-size="12.1" textLength="17.65" lengthAdjust="spacingAndGlyphs">0.5</text>
<line x1="241.85" y1="378.7" x2="245.45" y2="378.7" stroke="#505050" stroke-width="1"/>
<rect x="214.18" y="379.5" width="6.95" height="1.05" fill="#111"/><text x="222.3" y="383.2" font-size="12.1" textLength="17.65" lengthAdjust="spacingAndGlyphs">1.0</text>
<line x1="241.85" y1="404" x2="245.45" y2="404" stroke="#505050" stroke-width="1"/>
<rect x="214.18" y="405" width="6.95" height="1.05" fill="#111"/><text x="222.3" y="408.5" font-size="12.1" textLength="17.65" lengthAdjust="spacingAndGlyphs">1.5</text>
<line x1="241.85" y1="429.3" x2="245.45" y2="429.3" stroke="#505050" stroke-width="1"/>
<rect x="214.18" y="430" width="6.95" height="1.05" fill="#111"/><text x="222.3" y="433.8" font-size="12.1" textLength="17.65" lengthAdjust="spacingAndGlyphs">2.0</text>
<line x1="241.85" y1="454.6" x2="245.45" y2="454.6" stroke="#505050" stroke-width="1"/>
<rect x="214.18" y="455.4" width="6.95" height="1.05" fill="#111"/><text x="222.3" y="459.1" font-size="12.1" textLength="17.65" lengthAdjust="spacingAndGlyphs">2.5</text>
<line x1="241.85" y1="479.91" x2="245.45" y2="479.91" stroke="#505050" stroke-width="1"/>
<rect x="214.18" y="481" width="6.95" height="1.05" fill="#111"/><text x="222.3" y="484.41" font-size="12.1" textLength="17.65" lengthAdjust="spacingAndGlyphs">3.0</text>
<line x1="241.85" y1="505.21" x2="245.45" y2="505.21" stroke="#505050" stroke-width="1"/>
<rect x="214.18" y="506" width="6.95" height="1.05" fill="#111"/><text x="222.3" y="509.71" font-size="12.1" textLength="17.65" lengthAdjust="spacingAndGlyphs">3.5</text>
<line x1="241.85" y1="525.7" x2="245.45" y2="525.7" stroke="#505050" stroke-width="1"/>
<text x="215.24" y="530.2" font-size="12.1" textLength="24.71" lengthAdjust="spacingAndGlyphs">0.25</text>
<line x1="241.85" y1="558.75" x2="245.45" y2="558.75" stroke="#505050" stroke-width="1"/>
<text x="215.24" y="563.25" font-size="12.1" textLength="24.71" lengthAdjust="spacingAndGlyphs">0.00</text>
<line x1="241.85" y1="591.8" x2="245.45" y2="591.8" stroke="#505050" stroke-width="1"/>
<rect x="207.12" y="592.6" width="6.95" height="1.05" fill="#111"/><text x="215.24" y="596.3" font-size="12.1" textLength="24.71" lengthAdjust="spacingAndGlyphs">0.25</text>
<line x1="245.45" y1="591.8" x2="245.45" y2="595.4" stroke="#505050" stroke-width="1"/>
<rect x="233.15" y="602" width="6.95" height="1.05" fill="#111"/><text x="241.28" y="605.65" font-size="12.1" textLength="17.65" lengthAdjust="spacingAndGlyphs">2.2</text>
<line x1="286.78" y1="591.8" x2="286.78" y2="595.4" stroke="#505050" stroke-width="1"/>
<rect x="274.48" y="602" width="6.95" height="1.05" fill="#111"/><text x="282.61" y="605.65" font-size="12.1" textLength="17.65" lengthAdjust="spacingAndGlyphs">2.0</text>
<line x1="328.12" y1="591.8" x2="328.12" y2="595.4" stroke="#505050" stroke-width="1"/>
<rect x="315.82" y="602" width="6.95" height="1.05" fill="#111"/><text x="323.94" y="605.65" font-size="12.1" textLength="17.65" lengthAdjust="spacingAndGlyphs">1.8</text>
<line x1="369.45" y1="591.8" x2="369.45" y2="595.4" stroke="#505050" stroke-width="1"/>
<rect x="357.15" y="602" width="6.95" height="1.05" fill="#111"/><text x="365.28" y="605.65" font-size="12.1" textLength="17.65" lengthAdjust="spacingAndGlyphs">1.6</text>
<line x1="410.78" y1="591.8" x2="410.78" y2="595.4" stroke="#505050" stroke-width="1"/>
<rect x="398.48" y="602" width="6.95" height="1.05" fill="#111"/><text x="406.61" y="605.65" font-size="12.1" textLength="17.65" lengthAdjust="spacingAndGlyphs">1.4</text>
<line x1="452.12" y1="591.8" x2="452.12" y2="595.4" stroke="#505050" stroke-width="1"/>
<rect x="439.82" y="602" width="6.95" height="1.05" fill="#111"/><text x="447.94" y="605.65" font-size="12.1" textLength="17.65" lengthAdjust="spacingAndGlyphs">1.2</text>
<line x1="493.45" y1="591.8" x2="493.45" y2="595.4" stroke="#505050" stroke-width="1"/>
<rect x="481.15" y="602" width="6.95" height="1.05" fill="#111"/><text x="489.28" y="605.65" font-size="12.1" textLength="17.65" lengthAdjust="spacingAndGlyphs">1.0</text>
<line x1="534.78" y1="591.8" x2="534.78" y2="595.4" stroke="#505050" stroke-width="1"/>
<rect x="522.48" y="602" width="6.95" height="1.05" fill="#111"/><text x="530.61" y="605.65" font-size="12.1" textLength="17.65" lengthAdjust="spacingAndGlyphs">0.8</text>
<text x="400.45" y="619.4" font-size="10.6" text-anchor="middle" textLength="69.5" lengthAdjust="spacingAndGlyphs">log(<tspan font-style="italic">k</tspan>/km<tspan dy="-3.8" font-size="7.4">−1</tspan><tspan dy="3.8">s)</tspan></text>
<text transform="translate(208.75,426.9) rotate(-90)" x="0" y="0" font-size="11" text-anchor="middle" textLength="53.6" lengthAdjust="spacingAndGlyphs">log(<tspan font-style="italic">kP</tspan><tspan font-style="italic" font-size="7.8" dy="2.7">k</tspan><tspan dy="-2.7">/</tspan><tspan font-style="italic">π</tspan>)</text>
<text transform="translate(202.25,558.75) rotate(-90)" x="0" y="0" font-size="11.2" text-anchor="middle" textLength="32.6" lengthAdjust="spacingAndGlyphs">d<tspan font-style="italic">P</tspan><tspan font-style="italic" font-size="7.8" dy="2.7">k</tspan><tspan dy="-2.7">/</tspan><tspan font-style="italic">P</tspan><tspan font-style="italic" font-size="7.8" dy="2.7">k</tspan></text>
</svg>
</body></html>
